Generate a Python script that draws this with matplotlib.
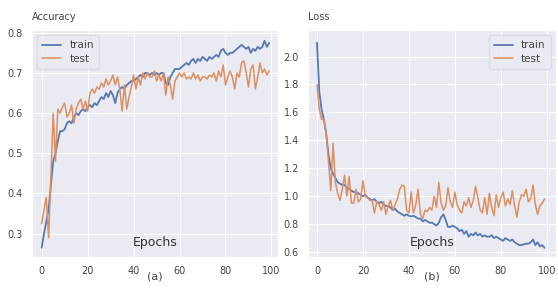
import matplotlib
matplotlib.use("Agg")
import matplotlib.pyplot as plt
import seaborn as sns

sns.set_style("darkgrid")
plt.rcParams['font.family'] = ['Liberation Sans Narrow', 'DejaVu Sans']

# epochs 0..99
acc_train = [0.265, 0.30, 0.33, 0.36, 0.42, 0.48, 0.50, 0.53, 0.555, 0.555,
             0.56, 0.575, 0.58, 0.575, 0.59, 0.60, 0.595, 0.605, 0.61, 0.605,
             0.615, 0.62, 0.615, 0.625, 0.62, 0.63, 0.64, 0.635, 0.65, 0.64,
             0.655, 0.645, 0.625, 0.65, 0.66, 0.665, 0.66, 0.67, 0.675, 0.68,
             0.68, 0.685, 0.69, 0.695, 0.69, 0.70, 0.70, 0.695, 0.70, 0.695,
             0.70, 0.695, 0.70, 0.70, 0.675, 0.67, 0.69, 0.70, 0.71, 0.71,
             0.71, 0.715, 0.72, 0.725, 0.72, 0.73, 0.735, 0.725, 0.735, 0.73,
             0.74, 0.735, 0.73, 0.74, 0.735, 0.74, 0.745, 0.74, 0.755, 0.76,
             0.75, 0.745, 0.75, 0.75, 0.755, 0.76, 0.765, 0.77, 0.765, 0.76,
             0.765, 0.75, 0.76, 0.755, 0.765, 0.76, 0.765, 0.78, 0.765, 0.775]
acc_test = [0.325, 0.36, 0.39, 0.29, 0.44, 0.60, 0.48, 0.61, 0.60, 0.615,
            0.625, 0.59, 0.60, 0.62, 0.575, 0.61, 0.625, 0.635, 0.61, 0.63,
            0.605, 0.65, 0.66, 0.65, 0.665, 0.66, 0.675, 0.665, 0.685, 0.67,
            0.68, 0.695, 0.67, 0.69, 0.66, 0.605, 0.67, 0.61, 0.64, 0.665,
            0.695, 0.66, 0.69, 0.67, 0.70, 0.685, 0.70, 0.69, 0.69, 0.705,
            0.68, 0.695, 0.68, 0.70, 0.645, 0.69, 0.67, 0.635, 0.68, 0.69,
            0.70, 0.69, 0.70, 0.685, 0.69, 0.685, 0.70, 0.685, 0.695, 0.68,
            0.69, 0.69, 0.685, 0.695, 0.69, 0.70, 0.68, 0.705, 0.69, 0.72,
            0.67, 0.69, 0.705, 0.69, 0.66, 0.70, 0.69, 0.725, 0.73, 0.70,
            0.665, 0.71, 0.72, 0.66, 0.69, 0.725, 0.70, 0.71, 0.695, 0.705]
loss_train = [2.10, 1.75, 1.62, 1.55, 1.45, 1.30, 1.20, 1.16, 1.13, 1.10,
              1.09, 1.08, 1.08, 1.06, 1.05, 1.04, 1.03, 1.03, 1.02, 1.01,
              1.00, 1.01, 0.99, 0.98, 0.97, 0.98, 0.96, 0.95, 0.96, 0.94,
              0.93, 0.93, 0.92, 0.90, 0.91, 0.89, 0.88, 0.87, 0.86, 0.87,
              0.86, 0.855, 0.86, 0.85, 0.84, 0.84, 0.82, 0.83, 0.82, 0.81,
              0.81, 0.80, 0.79, 0.81, 0.85, 0.87, 0.83, 0.78, 0.78, 0.79,
              0.78, 0.77, 0.75, 0.76, 0.73, 0.75, 0.71, 0.73, 0.72, 0.74,
              0.72, 0.73, 0.71, 0.72, 0.71, 0.71, 0.72, 0.70, 0.71, 0.70,
              0.69, 0.68, 0.70, 0.69, 0.68, 0.69, 0.67, 0.66, 0.65, 0.65,
              0.655, 0.66, 0.66, 0.67, 0.69, 0.65, 0.67, 0.64, 0.65, 0.63]
loss_test = [1.80, 1.62, 1.55, 1.55, 1.45, 1.25, 1.04, 1.38, 1.10, 1.02,
             0.97, 1.05, 1.15, 1.00, 1.14, 0.95, 0.95, 1.05, 0.96, 0.98,
             1.11, 1.00, 0.99, 0.97, 0.97, 0.88, 0.96, 0.94, 0.90, 0.96,
             0.87, 0.93, 0.97, 0.90, 0.94, 0.98, 1.05, 1.08, 1.07, 0.90,
             0.88, 1.03, 0.88, 0.94, 1.05, 0.87, 0.84, 0.90, 0.89, 0.92,
             0.90, 1.00, 0.92, 1.10, 0.95, 0.90, 0.93, 1.06, 0.96, 0.92,
             1.03, 0.94, 0.90, 0.88, 0.96, 0.93, 0.99, 0.92, 0.97, 1.07,
             0.99, 0.90, 0.88, 0.99, 0.87, 1.02, 0.92, 0.86, 1.01, 0.92,
             0.99, 1.03, 0.93, 0.98, 0.94, 1.04, 0.93, 0.85, 0.96, 1.01,
             1.00, 1.05, 0.96, 0.98, 1.08, 0.94, 0.87, 0.93, 0.95, 0.98]
epochs = list(range(len(acc_train)))

blue = '#5577B2'
orange = '#DE8F62'
txt = '#444444'

fig = plt.figure(figsize=(5.58, 2.94), dpi=100)
ax1 = fig.add_axes([0.057, 0.126, 0.441, 0.772])
ax2 = fig.add_axes([0.552, 0.126, 0.444, 0.772])

panels = [
    (ax1, acc_train, acc_test, 'Accuracy', (0.242, 0.807), [0.3, 0.4, 0.5, 0.6, 0.7, 0.8], 'upper left', '(a)'),
    (ax2, loss_train, loss_test, 'Loss', (0.565, 2.19), [0.6, 0.8, 1.0, 1.2, 1.4, 1.6, 1.8, 2.0], 'upper right', '(b)'),
]

for ax, tr, te, name, ylim, yticks, loc, tag in panels:
    ax.plot(epochs, tr, color=blue, lw=1.3, label='train')
    ax.plot(epochs, te, color=orange, lw=1.1, label='test')
    ax.set_xlim(-4.3, 102.8)
    ax.set_ylim(*ylim)
    ax.set_xticks([0, 20, 40, 60, 80, 100])
    ax.set_yticks(yticks)
    ax.set_yticklabels([f'{v:.1f}' for v in yticks])
    ax.tick_params(labelsize=7, colors=txt, pad=3)
    ax.set_title(name, loc='left', fontsize=7, color=txt, pad=7)
    ax.text(0.5, 0.035, 'Epochs', transform=ax.transAxes, ha='center',
            va='bottom', fontsize=9, color='#333333')
    ax.text(0.5, -0.088, tag, transform=ax.transAxes, ha='center',
            va='center', fontsize=8, color=txt)
    leg = ax.legend(loc=loc, fontsize=7.5, frameon=True, handlelength=1.8,
                    borderpad=0.5, labelspacing=0.3)
    leg.get_frame().set_facecolor('#EAEAF2')
    leg.get_frame().set_edgecolor('#D8D8E0')
    for t in leg.get_texts():
        t.set_color(txt)

ax2.set_xlim(-3.9, 103.9)

fig.savefig('out.png', dpi=100, facecolor='white')
